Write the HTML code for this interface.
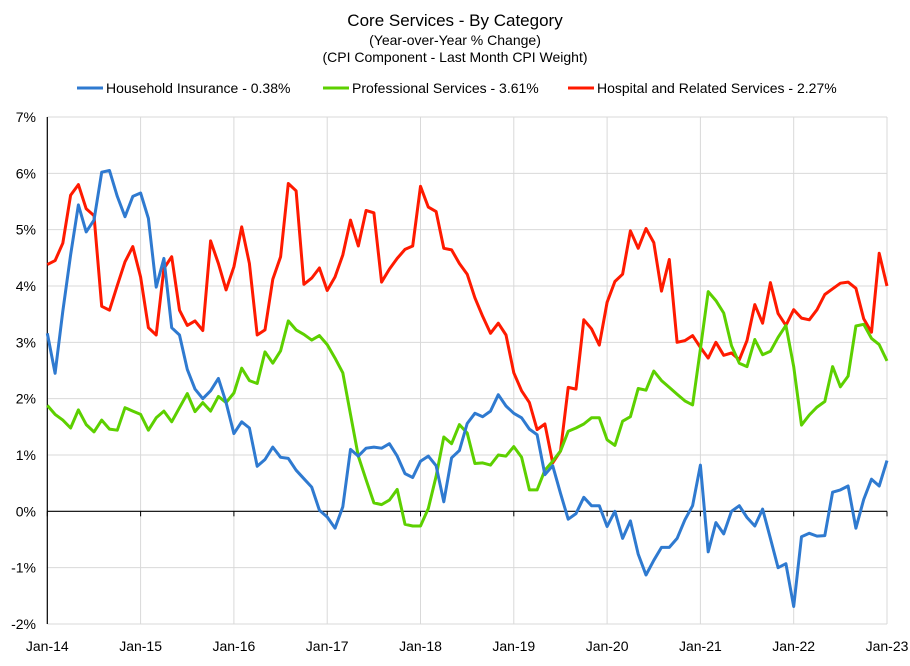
<!DOCTYPE html>
<html><head><meta charset="utf-8">
<style>
html,body{margin:0;padding:0;background:#fff;}
svg text{font-family:"Liberation Sans",sans-serif;fill:#000;}
</style></head>
<body>
<svg id="chart" width="910" height="661" viewBox="0 0 910 661" xmlns="http://www.w3.org/2000/svg">
<text x="455" y="26" text-anchor="middle" font-size="17">Core Services  - By Category</text>
<text x="455" y="45" text-anchor="middle" font-size="14">(Year-over-Year % Change)</text>
<text x="455" y="62" text-anchor="middle" font-size="14">(CPI Component - Last Month CPI Weight)</text>
<g>
<line x1="77" y1="88" x2="103" y2="88" stroke="#2f7ad0" stroke-width="3"/>
<text x="106" y="93" font-size="14">Household Insurance - 0.38%</text>
<line x1="323" y1="88" x2="349" y2="88" stroke="#5dd000" stroke-width="3"/>
<text x="352" y="93" font-size="14">Professional Services - 3.61%</text>
<line x1="568" y1="88" x2="594" y2="88" stroke="#ff1a00" stroke-width="3"/>
<text x="597" y="93" font-size="14">Hospital and Related Services - 2.27%</text>
</g>
<g id="grid"></g>
<g id="axes"></g>
<g id="series"></g>
</svg>
<script>
const xLabels = ["Jan-14","Jan-15","Jan-16","Jan-17","Jan-18","Jan-19","Jan-20","Jan-21","Jan-22","Jan-23"];
const yTicks = [-2,-1,0,1,2,3,4,5,6,7];
const household = [3.16,2.45,3.55,4.55,5.44,4.96,5.17,6.02,6.05,5.59,5.23,5.59,5.65,5.2,3.98,4.49,3.26,3.13,2.52,2.17,2.0,2.14,2.36,1.93,1.38,1.59,1.48,0.8,0.92,1.14,0.96,0.94,0.73,0.58,0.43,0.02,-0.1,-0.3,0.08,1.1,0.98,1.12,1.14,1.12,1.2,0.98,0.67,0.6,0.89,0.98,0.81,0.17,0.95,1.08,1.56,1.74,1.68,1.78,2.07,1.87,1.74,1.66,1.46,1.36,0.65,0.81,0.32,-0.14,-0.04,0.25,0.1,0.1,-0.27,0.0,-0.48,-0.17,-0.76,-1.13,-0.87,-0.64,-0.64,-0.48,-0.15,0.1,0.82,-0.72,-0.2,-0.4,0.0,0.1,-0.11,-0.26,0.04,-0.48,-1.0,-0.93,-1.69,-0.45,-0.39,-0.44,-0.43,0.34,0.38,0.45,-0.3,0.21,0.57,0.45,0.9];
const professional = [1.88,1.72,1.62,1.48,1.8,1.54,1.41,1.62,1.46,1.44,1.84,1.78,1.72,1.44,1.66,1.78,1.59,1.84,2.09,1.77,1.93,1.78,2.04,1.93,2.1,2.54,2.32,2.27,2.83,2.63,2.85,3.38,3.22,3.14,3.04,3.12,2.96,2.72,2.46,1.72,0.98,0.56,0.15,0.12,0.2,0.39,-0.23,-0.26,-0.26,0.05,0.62,1.32,1.2,1.54,1.39,0.85,0.86,0.82,1.0,0.98,1.15,0.96,0.38,0.38,0.73,0.89,1.07,1.42,1.48,1.55,1.66,1.66,1.27,1.17,1.6,1.68,2.18,2.15,2.49,2.32,2.2,2.08,1.96,1.89,2.88,3.9,3.74,3.52,2.94,2.63,2.57,3.05,2.78,2.84,3.09,3.3,2.57,1.53,1.71,1.85,1.95,2.57,2.21,2.4,3.29,3.32,3.07,2.96,2.67];
const hospital = [4.38,4.45,4.76,5.61,5.8,5.37,5.25,3.64,3.57,4.01,4.43,4.7,4.16,3.26,3.13,4.31,4.52,3.57,3.3,3.38,3.21,4.8,4.4,3.93,4.34,5.05,4.4,3.13,3.22,4.12,4.52,5.82,5.69,4.03,4.14,4.32,3.92,4.16,4.55,5.17,4.71,5.34,5.3,4.07,4.3,4.49,4.65,4.71,5.77,5.4,5.32,4.67,4.64,4.4,4.21,3.79,3.46,3.16,3.34,3.13,2.46,2.14,1.93,1.45,1.55,0.86,1.07,2.2,2.17,3.4,3.24,2.95,3.71,4.08,4.21,4.98,4.67,5.02,4.77,3.91,4.47,3.0,3.03,3.12,2.91,2.72,3.0,2.77,2.81,2.69,3.03,3.67,3.34,4.06,3.51,3.3,3.58,3.43,3.4,3.58,3.85,3.95,4.05,4.07,3.96,3.42,3.18,4.58,4.0];

const NS = "http://www.w3.org/2000/svg";
const L = 47.3, R = 887, T = 117, B = 624;
const yMin = -2, yMax = 7, nMonths = 108;
function xScale(i){ return L + (R - L) * i / nMonths; }
function yScale(v){ return B - (v - yMin) / (yMax - yMin) * (B - T); }
function mk(tag, attrs, parent){ const e = document.createElementNS(NS, tag); for (const k in attrs) e.setAttribute(k, attrs[k]); parent.appendChild(e); return e; }

const grid = document.getElementById('grid');
const axes = document.getElementById('axes');
const series = document.getElementById('series');

yTicks.forEach(t => {
  const y = yScale(t);
  if (t !== 0) {
    const g = mk('line', {x1: L, x2: R, y1: y, y2: y, stroke: '#d9d9d9', 'stroke-width': 1}, grid);
    
    
  }
  const tx = mk('text', {x: 36, y: y + 5, 'text-anchor': 'end', 'font-size': 14}, axes);
  tx.textContent = t + '%';
  
  
});
xLabels.forEach((lab, k) => {
  const x = xScale(k * 12);
  if (k > 0) {
    const g = mk('line', {x1: x, x2: x, y1: T, y2: B, stroke: '#d9d9d9', 'stroke-width': 1}, grid);
    
    
  }
  const tk = mk('line', {x1: x, x2: x, y1: yScale(0), y2: yScale(0) + 5, stroke: '#000', 'stroke-width': 1}, axes);
  
  
  const tx = mk('text', {x: x, y: 651, 'text-anchor': 'middle', 'font-size': 14}, axes);
  tx.textContent = lab;
  
  
});
const zl = mk('line', {x1: L, x2: R, y1: yScale(0), y2: yScale(0), stroke: '#000', 'stroke-width': 1.2}, axes);


const yl = mk('line', {x1: L, x2: L, y1: T, y2: B, stroke: '#000', 'stroke-width': 1.2}, axes);



function drawSeries(vals, color, name){
  const pts = vals.map((v, i) => xScale(i).toFixed(1) + ',' + yScale(v).toFixed(1)).join(' ');
  const p = mk('polyline', {points: pts, fill: 'none', stroke: color, 'stroke-width': 3, 'stroke-linejoin': 'round'}, series);
  
  
}
drawSeries(hospital, '#ff1a00', 'hospital-line');
drawSeries(professional, '#5dd000', 'professional-line');
drawSeries(household, '#2f7ad0', 'household-line');
</script>
</body></html>
